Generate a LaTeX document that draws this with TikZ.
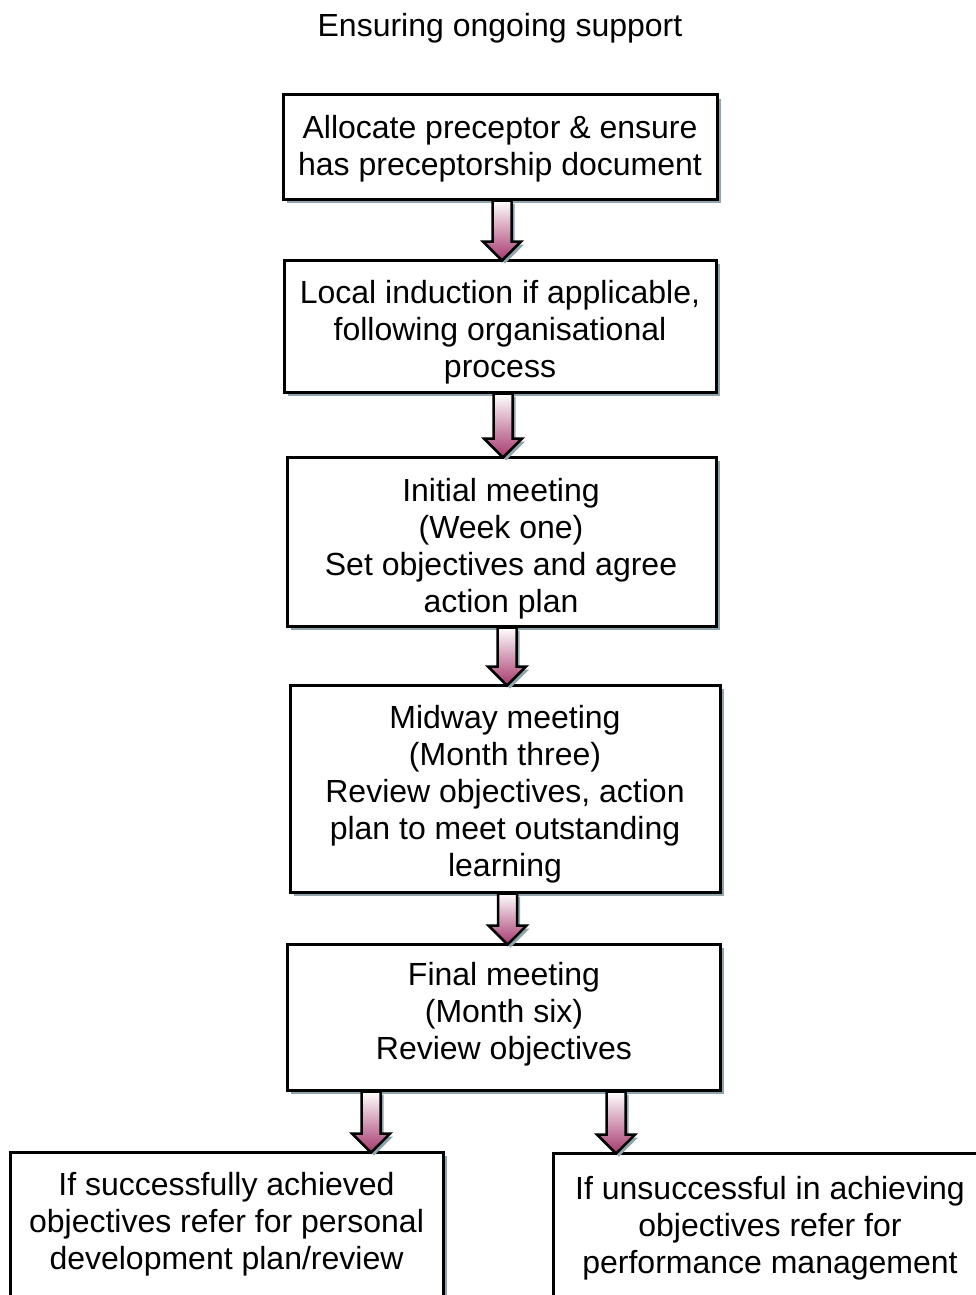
\documentclass[tikz,border=0pt]{standalone}
\usepackage{fontspec}
\setmainfont{Liberation Sans}
\usetikzlibrary{shadows,calc}
\definecolor{shadowc}{HTML}{8FA5AE}
\definecolor{arrowc}{HTML}{A6386E}
\tikzset{
  boxst/.style={draw=black, line width=3pt, fill=white, inner sep=0pt,
    drop shadow={shadow xshift=4pt, shadow yshift=-4pt, fill=shadowc, opacity=1}},
  txt/.style={align=center, font=\fontsize{32}{37}\selectfont, inner sep=0pt},
  arrowst/.style={draw=black, line width=2.5pt, line join=miter, top color=white, bottom color=arrowc},
  arrowshadow/.style={fill=shadowc, transform canvas={shift={(3pt,-3pt)}}}
}
\newcommand\blockarrow[3]{%
  \path[arrowshadow] let \p1=($(#2.south)+(#1,0)$), \p2=(#3.north) in
    (\x1-9.5pt,\y1) -- (\x1+9.5pt,\y1) -- (\x1+9.5pt,\y2+17pt) -- (\x1+19pt,\y2+17pt)
    -- (\x1,\y2-2pt) -- (\x1-19pt,\y2+17pt) -- (\x1-9.5pt,\y2+17pt) -- cycle;
  \path[arrowst] let \p1=($(#2.south)+(#1,0)$), \p2=(#3.north) in
    (\x1-9.5pt,\y1) -- (\x1+9.5pt,\y1) -- (\x1+9.5pt,\y2+17pt) -- (\x1+19pt,\y2+17pt)
    -- (\x1,\y2-2pt) -- (\x1-19pt,\y2+17pt) -- (\x1-9.5pt,\y2+17pt) -- cycle;
}
\begin{document}
\begin{tikzpicture}[x=1pt,y=-1pt]
\useasboundingbox (0,0) rectangle (975,1295);
\node[txt] (title) at (500,28) {Ensuring ongoing support};
\node[boxst, minimum width=434pt, minimum height=104pt] (b1) at (500,147) {};
\node[boxst, minimum width=432pt, minimum height=132pt] (b2) at (500,326) {};
\node[boxst, minimum width=429pt, minimum height=169pt] (b3) at (501.5,541.5) {};
\node[boxst, minimum width=430pt, minimum height=207pt] (b4) at (505,788.5) {};
\node[boxst, minimum width=433pt, minimum height=146pt] (b5) at (503.5,1017) {};
\node[boxst, minimum width=433pt, minimum height=168pt] (b6) at (226.5,1236) {};
\node[boxst, minimum width=480pt, minimum height=167pt] (b7) at (793,1236.5) {};
\node[txt] (t1) at (500,148.5) {Allocate preceptor \& ensure\\has preceptorship document};
\node[txt] (t2) at (500,332) {Local induction if applicable,\\following organisational\\process};
\node[txt] (t3) at (501,548.5) {Initial meeting\\(Week one)\\Set objectives and agree\\action plan};
\node[txt] (t4) at (505,794) {Midway meeting\\(Month three)\\Review objectives, action\\plan to meet outstanding\\learning};
\node[txt] (t5) at (504,1014) {Final meeting\\(Month six)\\Review objectives};
\node[txt] (t6) at (226.5,1224) {If successfully achieved\\objectives refer for personal\\development plan/review};
\node[txt] (t7) at (770,1228.5) {If unsuccessful in achieving\\objectives refer for\\performance management};
\blockarrow{2}{b1}{b2}
\blockarrow{3}{b2}{b3}
\blockarrow{5.5}{b3}{b4}
\blockarrow{2.5}{b4}{b5}
\blockarrow{-132.5}{b5}{b6}
\blockarrow{112.5}{b5}{b7}
\end{tikzpicture}
\end{document}
